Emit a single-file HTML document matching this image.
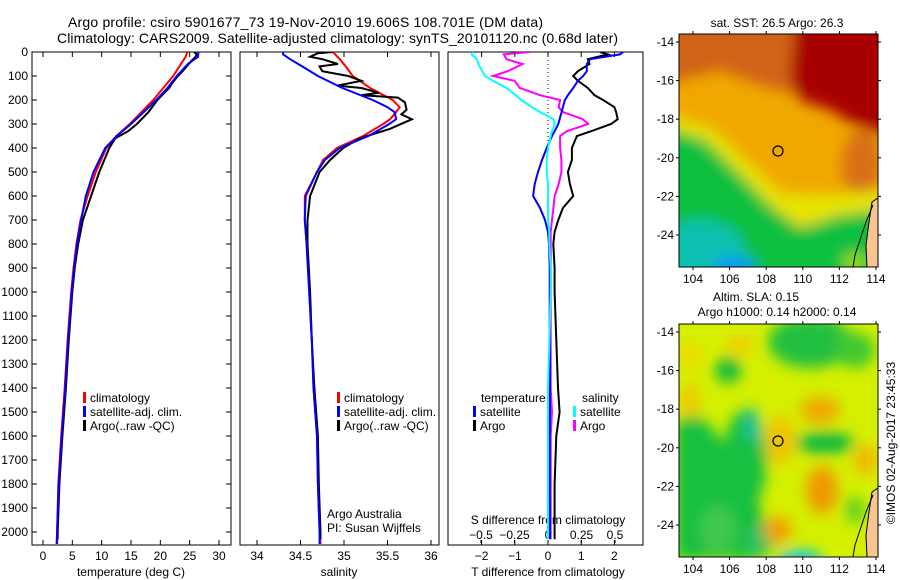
<!DOCTYPE html>
<html><head><meta charset="utf-8"><style>
html,body{margin:0;padding:0;background:#fff}
svg{display:block;font-family:"Liberation Sans",sans-serif}
</style></head><body>
<svg id="fig" width="900" height="580" viewBox="0 0 900 580">
<defs>
<filter id="blur" x="-20%" y="-20%" width="140%" height="140%"><feGaussianBlur stdDeviation="7"/></filter>
<clipPath id="clipTop"><rect x="679" y="34" width="199" height="233"/></clipPath>
<clipPath id="clipBot"><rect x="679" y="324" width="199" height="233"/></clipPath>
<clipPath id="clipP1"><rect x="32" y="52" width="199" height="493"/></clipPath>
<clipPath id="clipP2"><rect x="240" y="52" width="199" height="493"/></clipPath>
<clipPath id="clipP3"><rect x="448" y="52" width="195" height="493"/></clipPath>
</defs>
<text x="68" y="27" font-size="14" textLength="475">Argo profile: csiro 5901677_73 19-Nov-2010 19.606S 108.701E (DM data)</text>
<text x="57" y="43" font-size="14" textLength="561">Climatology: CARS2009. Satellite-adjusted climatology: synTS_20101120.nc (0.68d later)</text>

<!-- top map -->
<g>
<text x="777" y="27" font-size="12" text-anchor="middle">sat. SST: 26.5 Argo: 26.3</text>
<g clip-path="url(#clipTop)">
<rect x="679" y="34" width="199" height="233" fill="#f0a800"/>
<g filter="url(#blur)">
<polygon points="660,20 810,20 800,95 760,85 720,70 660,85" fill="#d06414"/>
<polygon points="795,20 900,20 900,140 855,125 830,110 800,100 790,80" fill="#a80000"/>
<ellipse cx="862" cy="165" rx="20" ry="35" fill="#d87018"/>
<polygon points="660,112 712,128 752,165 782,193 830,195 900,188 900,215 830,220 790,228 750,198 712,163 660,135" fill="#e8e400"/>
<polygon points="660,125 705,140 738,172 770,205 800,228 840,215 900,208 900,290 660,290" fill="#10c040"/>
<ellipse cx="700" cy="252" rx="45" ry="32" fill="#10c0b0"/>
<ellipse cx="735" cy="266" rx="22" ry="8" fill="#1090ff"/>
<ellipse cx="855" cy="262" rx="12" ry="8" fill="#a0e000"/>
</g>
<polygon points="872,202 878,198 878,267 867,267 866,245 869,222" fill="#f8c490" stroke="#000" stroke-width="1"/>
<polyline points="873,205 866,222 860,240 855,255 853,267" fill="none" stroke="#000" stroke-width="1"/>
</g>
<rect x="679" y="34" width="199" height="233" fill="none" stroke="#000"/>
<circle cx="778" cy="151" r="5" fill="none" stroke="#000" stroke-width="1.2"/>
<g id="sstAxes"></g>
</g>

<!-- bottom map -->
<g>
<text x="756" y="301" font-size="12" text-anchor="middle">Altim. SLA: 0.15</text>
<text x="777" y="316" font-size="12" text-anchor="middle">Argo h1000: 0.14 h2000: 0.14</text>
<g clip-path="url(#clipBot)">
<rect x="679" y="324" width="199" height="233" fill="#d4f000"/>
<g filter="url(#blur)">
<polygon points="675,420 700,415 730,450 750,480 765,520 760,560 675,560" fill="#18c040"/>
<ellipse cx="745" cy="460" rx="22" ry="50" fill="#18c040"/>
<ellipse cx="752" cy="425" rx="7" ry="18" fill="#20c0a0"/>
<ellipse cx="810" cy="342" rx="42" ry="26" fill="#20c040"/>
<ellipse cx="855" cy="350" rx="20" ry="18" fill="#40c830"/>
<ellipse cx="728" cy="370" rx="13" ry="13" fill="#10b840"/>
<ellipse cx="825" cy="443" rx="30" ry="11" fill="#10b840"/>
<ellipse cx="718" cy="530" rx="18" ry="25" fill="#40c850"/>
<ellipse cx="760" cy="540" rx="14" ry="16" fill="#30c060"/>
<ellipse cx="800" cy="560" rx="22" ry="10" fill="#10c8e0"/>
<ellipse cx="820" cy="410" rx="20" ry="14" fill="#f0a800"/>
<ellipse cx="822" cy="490" rx="16" ry="24" fill="#f09800"/>
<ellipse cx="778" cy="530" rx="14" ry="14" fill="#f0a000"/>
<ellipse cx="690" cy="400" rx="10" ry="18" fill="#f0c800"/>
<ellipse cx="780" cy="440" rx="15" ry="25" fill="#f0c400"/>
<ellipse cx="866" cy="460" rx="12" ry="16" fill="#f0b800"/>
<ellipse cx="690" cy="355" rx="12" ry="12" fill="#f0d800"/>
<ellipse cx="740" cy="345" rx="14" ry="10" fill="#f0d000"/>
<ellipse cx="855" cy="510" rx="10" ry="14" fill="#60d020"/>
</g>
<polygon points="872,492 878,488 878,557 867,557 866,535 869,512" fill="#f8c490" stroke="#000" stroke-width="1"/>
<polyline points="873,495 866,512 860,530 855,545 853,557" fill="none" stroke="#000" stroke-width="1"/>
</g>
<rect x="679" y="324" width="199" height="233" fill="none" stroke="#000"/>
<circle cx="778" cy="441" r="5" fill="none" stroke="#000" stroke-width="1.2"/>
<g id="slaAxes"></g>
</g>
<text transform="translate(895,443) rotate(-90)" font-size="12" text-anchor="middle">©IMOS 02-Aug-2017 23:45:33</text>
<g id="plots"></g>
</svg>
<script>
// ---- profile data (depth in dbar) ----
const depthT = [0,20,50,100,150,200,250,300,350,400,500,600,700,800,900,1000,1200,1400,1600,1800,2000,2050];
const tempClim = [24.6,24.3,23.5,22.2,20.5,18.8,16.8,14.8,12.5,10.8,9.0,7.6,6.4,5.7,5.2,4.8,4.2,3.7,3.1,2.6,2.4,2.3];
const tempSat  = [26.5,26.4,24.7,22.8,21.2,19.3,17.2,15.0,12.6,10.6,8.6,7.3,6.5,5.8,5.3,4.9,4.3,3.8,3.2,2.7,2.4,2.4];
const depthA = [0,10,20,40,60,80,100,130,150,180,200,250,300,330,360,400,500,600,650,700,800,900,1000,1200,1400,1600,1800,2000,2030];
const tempArgo = [25.8,26.2,26.0,25.2,24.5,23.8,23.0,22.0,21.5,20.3,19.5,18.0,16.0,14.5,12.3,11.3,9.6,8.2,7.5,6.8,6.0,5.4,5.0,4.4,3.9,3.3,2.8,2.5,2.5];
const depthS = [0,10,30,60,100,150,200,230,250,280,300,350,400,450,500,600,700,800,1000,1200,1400,1600,1800,2000,2050];
const salClim = [34.87,34.9,34.95,35.02,35.10,35.30,35.56,35.64,35.6,35.53,35.45,35.22,34.92,34.76,34.69,34.55,34.55,34.57,34.60,34.63,34.65,34.69,34.70,34.72,34.73];
const salSat  = [34.30,34.30,34.38,34.52,34.70,34.98,35.33,35.50,35.58,35.60,35.52,35.28,34.95,34.78,34.69,34.56,34.55,34.57,34.60,34.63,34.65,34.69,34.70,34.72,34.72];
const depthSA = [0,5,20,30,50,60,80,100,120,140,150,170,180,190,210,240,260,280,320,360,400,450,500,600,700,800,1000,1200,1400,1600,1800,2000,2030];
const salArgo = [34.87,34.7,34.61,34.75,34.93,34.72,34.75,35.05,35.2,34.92,35.2,35.4,35.2,35.62,35.70,35.72,35.66,35.78,35.53,35.18,34.99,34.84,34.72,34.61,34.58,34.58,34.61,34.63,34.66,34.70,34.71,34.73,34.73];
const depthD = [0,10,30,50,80,100,120,150,180,200,230,250,280,300,330,350,400,450,500,550,600,650,700,750,800,900,1000,1200,1400,1500,1600,1800,2000,2030];
const dTsat  = [2.26,2.17,1.27,1.17,1.17,1.06,0.9,0.76,0.6,0.51,0.45,0.41,0.35,0.31,0.2,0.12,-0.04,-0.18,-0.3,-0.4,-0.45,-0.24,-0.09,0.0,0.03,0.05,0.05,0.05,0.06,0.06,0.05,0.05,0.06,0.06];
const dTargo = [1.57,1.8,1.2,1.25,0.9,0.76,0.9,1.2,1.4,1.66,2.0,2.05,2.1,1.9,1.3,0.87,0.72,0.72,0.6,0.66,0.76,0.45,0.31,0.2,0.16,0.2,0.2,0.25,0.3,0.35,0.25,0.2,0.2,0.2];
const dSsat  = [-0.56,-0.57,-0.53,-0.52,-0.49,-0.47,-0.41,-0.31,-0.24,-0.2,-0.12,-0.06,0.04,0.05,0.03,0.02,0.0,-0.01,-0.01,0.0,0.0,0.0,0.0,0.01,0.01,0.02,0.02,0.01,0.0,0.0,0.0,0.0,0.0,0.0];
const dSargo = [-0.13,-0.33,-0.31,-0.19,-0.3,-0.41,-0.25,-0.21,-0.06,0.09,0.08,0.11,0.26,0.30,0.14,0.09,0.09,0.1,0.1,0.08,0.05,0.04,0.03,0.02,0.02,0.02,0.02,0.02,0.02,0.03,0.02,0.02,0.02,0.02];
const depthTicks = [0,100,200,300,400,500,600,700,800,900,1000,1100,1200,1300,1400,1500,1600,1700,1800,1900,2000];
const tempTicks = [0,5,10,15,20,25,30];
const salTicks = [34,34.5,35,35.5,36];
const dTTicks = [-2,-1,0,1,2];
const dSTicks = [-0.5,-0.25,0,0.25,0.5];
const lonTicks = [104,106,108,110,112,114];
const latTicks = [-14,-16,-18,-20,-22,-24];

const NS='http://www.w3.org/2000/svg';
const plots=document.getElementById('plots');
const yD = d => 52 + d*0.24;
const xT = t => 43 + t*5.867;
const xS = s => 257 + (s-34)*87;
const xdT = t => 548 + t*33.2;
const xdS = s => 548 + s*134;
function mk(tag, attrs, parent){const e=document.createElementNS(NS,tag);for(const k in attrs)e.setAttribute(k,attrs[k]);(parent||plots).appendChild(e);return e;}
function txt(x,y,s,anchor,size,parent){const e=mk('text',{x:x,y:y,'font-size':size||12,'text-anchor':anchor||'middle'},parent);e.textContent=s;return e;}
function line(xs,ds,fx,color,w,clip,name){
  const pts=xs.map((v,i)=>fx(v).toFixed(1)+','+yD(ds[i]).toFixed(1)).join(' ');
  const e=mk('polyline',{points:pts,fill:'none',stroke:color,'stroke-width':w,'clip-path':clip});
  
  
}
function frame(x,w,name){const e=mk('rect',{x:x,y:52,width:w,height:493,fill:'none',stroke:'#000'});
  
  }
function legend(x,y,items){items.forEach((it,i)=>{
  if(it.c){mk('rect',{x:x,y:y+i*14-10,width:3,height:11,fill:it.c});}
  const t=txt(x+(it.c?7:0),y+i*14,it.t,'start',12);
  
  
});}

// Panel 1: temperature
frame(32,199,'temperature-panel');
depthTicks.forEach(d=>{mk('line',{x1:32,x2:37,y1:yD(d),y2:yD(d),stroke:'#000'});mk('line',{x1:226,x2:231,y1:yD(d),y2:yD(d),stroke:'#000'});
  const t=txt(28,yD(d)+4,String(d),'end',12);
  
  });
tempTicks.forEach(v=>{mk('line',{x1:xT(v),x2:xT(v),y1:540,y2:545,stroke:'#000'});mk('line',{x1:xT(v),x2:xT(v),y1:52,y2:57,stroke:'#000'});
  const t=txt(xT(v),560,String(v));
  
  });
{const t=txt(131,576,'temperature (deg C)');}
line(tempClim,depthT,xT,'#f00',2,'url(#clipP1)','temp-climatology-line');
line(tempArgo,depthA,xT,'#000',2,'url(#clipP1)','temp-argo-line');
line(tempSat,depthT,xT,'#00f',2,'url(#clipP1)','temp-satellite-line');
legend(83,402,[{c:'#f00',t:'climatology'},{c:'#00f',t:'satellite-adj. clim.'},{c:'#000',t:'Argo(..raw -QC)'}]);

// Panel 2: salinity
frame(240,199,'salinity-panel');
salTicks.forEach(v=>{mk('line',{x1:xS(v),x2:xS(v),y1:540,y2:545,stroke:'#000'});mk('line',{x1:xS(v),x2:xS(v),y1:52,y2:57,stroke:'#000'});
  const t=txt(xS(v),560,String(v));
  
  });
{const t=txt(339,576,'salinity');}
line(salClim,depthS,xS,'#f00',2,'url(#clipP2)','sal-climatology-line');
line(salArgo,depthSA,xS,'#000',2,'url(#clipP2)','sal-argo-line');
line(salSat,depthS,xS,'#00f',2,'url(#clipP2)','sal-satellite-line');
legend(337,402,[{c:'#f00',t:'climatology'},{c:'#00f',t:'satellite-adj. clim.'},{c:'#000',t:'Argo(..raw -QC)'}]);
txt(327,518,'Argo Australia','start',12);
txt(327,532,'PI: Susan Wijffels','start',12);

// Panel 3: differences
frame(448,195,'difference-panel');
mk('line',{x1:548,x2:548,y1:52,y2:150,stroke:'#000','stroke-dasharray':'1,3'});
dTTicks.forEach(v=>{mk('line',{x1:xdT(v),x2:xdT(v),y1:540,y2:545,stroke:'#000'});mk('line',{x1:xdT(v),x2:xdT(v),y1:52,y2:57,stroke:'#000'});
  const t=txt(xdT(v),560,String(v).replace('-','−'));
  
  });
dSTicks.forEach(v=>{mk('line',{x1:xdS(v),x2:xdS(v),y1:540,y2:543,stroke:'#000'});
  const t=txt(xdS(v),539,String(v).replace('-','−'));
  
  });
{const t=txt(548,524,'S difference from climatology');}
{const t=txt(548,576,'T difference from climatology');}
line(dTargo,depthD,xdT,'#000',2,'url(#clipP3)','dT-argo-line');
line(dSargo,depthD,xdS,'#f0f',2,'url(#clipP3)','dS-argo-line');
line(dTsat,depthD,xdT,'#00f',2,'url(#clipP3)','dT-satellite-line');
line(dSsat,depthD,xdS,'#0ff',2,'url(#clipP3)','dS-satellite-line');
legend(481,402,[{t:'temperature'}]);
legend(473,416,[{c:'#00f',t:'satellite'},{c:'#000',t:'Argo'}]);
legend(582,402,[{t:'salinity'}]);
legend(573,416,[{c:'#0ff',t:'satellite'},{c:'#f0f',t:'Argo'}]);

// Map axes
const xLon = l => 693 + (l-104)*18.3;
function mapAxes(top, labY, g){
  const yLat = la => top + 8 + (-14-la)*19.3;
  lonTicks.forEach(l=>{mk('line',{x1:xLon(l),x2:xLon(l),y1:top,y2:top-3,stroke:'#000'},g);mk('line',{x1:xLon(l),x2:xLon(l),y1:top+233,y2:top+236,stroke:'#000'},g);
    const t=txt(xLon(l),labY,String(l),'middle',12,g);
    
    });
  latTicks.forEach(la=>{mk('line',{x1:676,x2:679,y1:yLat(la),y2:yLat(la),stroke:'#000'},g);mk('line',{x1:878,x2:881,y1:yLat(la),y2:yLat(la),stroke:'#000'},g);
    const t=txt(674,yLat(la)+4,String(la),'end',12,g);
    
    });
}
mapAxes(34,283,document.getElementById('sstAxes'));
mapAxes(324,573,document.getElementById('slaAxes'));
</script>
</body></html>
